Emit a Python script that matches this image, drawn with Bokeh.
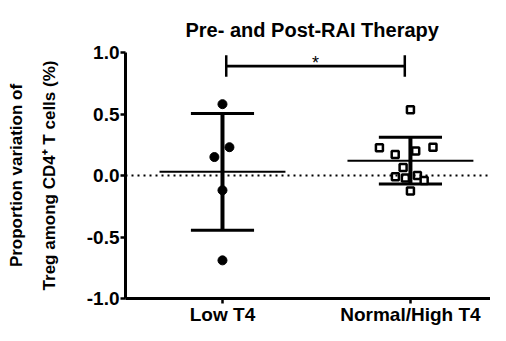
from bokeh.plotting import figure
from bokeh.models import Range1d, FixedTicker, PrintfTickFormatter, Span, Label
from bokeh.embed import file_html
from bokeh.resources import INLINE

# ---- data ----
groups = ["Low T4", "Normal/High T4"]
group_pos = [1, 2]
low_vals = [0.58, 0.23, 0.15, -0.12, -0.69]
low_jitter = [0.0, 0.037, -0.043, 0.0, 0.0]
high_vals = [0.534, 0.225, 0.17, 0.20, 0.23, 0.066, -0.01, -0.02, 0.0, -0.04, -0.125]
high_jitter = [0.0, -0.165, -0.081, 0.028, 0.12, -0.039, -0.08, -0.027, 0.037, 0.073, 0.0]
means = [0.03, 0.12]
sds = [0.475, 0.19]
y_ticks = [-1.0, -0.5, 0.0, 0.5, 1.0]
title_text = "Pre- and Post-RAI Therapy"
y_label = "Proportion variation of\nTreg among CD4\u207a T cells (%)"
sig_text = "*"

FONT = "Liberation Sans"

p = figure(frame_width=365, frame_height=246, output_backend="svg", toolbar_location=None,
           x_range=Range1d(0.484, 2.426), y_range=Range1d(-1.0, 1.0),
           min_border_left=125, min_border_right=0, min_border_top=52,
           min_border_bottom=22, title=title_text)
p.outline_line_color = None
p.xgrid.visible = False
p.ygrid.visible = False
p.background_fill_color = "white"

p.title.align = "left"
p.title.offset = 60
p.title.text_font = FONT
p.title.text_font_style = "bold"
p.title.text_font_size = "20px"
p.title.text_color = "black"
p.title.standoff = 24

# axes
for ax in (p.xaxis[0], p.yaxis[0]):
    ax.axis_line_width = 3
    ax.major_tick_line_width = 2.5
    ax.major_tick_in = 0
    ax.major_tick_out = 5
    ax.minor_tick_line_color = None
    ax.major_label_text_font = FONT
    ax.major_label_text_font_style = "bold"
    ax.major_label_text_color = "black"
    ax.axis_line_color = "black"
    ax.major_tick_line_color = "black"

p.yaxis.ticker = FixedTicker(ticks=y_ticks)
p.yaxis.formatter = PrintfTickFormatter(format="%.1f")
p.yaxis.major_label_text_font_size = "19px"
p.yaxis.major_label_standoff = 1
p.yaxis.axis_label = y_label
p.yaxis.axis_label_text_font = FONT
p.yaxis.axis_label_text_font_style = "bold"
p.yaxis.axis_label_text_font_size = "17px"
p.yaxis.axis_label_text_line_height = 1.7
p.yaxis.axis_label_standoff = 25
p.yaxis.axis_label_text_color = "black"

p.xaxis.ticker = FixedTicker(ticks=group_pos)
p.xaxis.major_label_overrides = {gp: g for gp, g in zip(group_pos, groups)}
p.xaxis.major_label_text_font_size = "19px"
p.xaxis.major_label_standoff = 0

# zero dotted line
p.add_layout(Span(location=0, dimension="width", line_color="black",
                  line_width=2, line_dash="2 4"))

# mean and SD
mx0 = [g - 0.335 for g in group_pos]
mx1 = [g + 0.335 for g in group_pos]
p.segment(x0=mx0, x1=mx1, y0=means, y1=means, line_color="black", line_width=2)
hi = [m + s for m, s in zip(means, sds)]
lo = [m - s for m, s in zip(means, sds)]
p.segment(x0=group_pos, x1=group_pos, y0=lo, y1=hi, line_color="black", line_width=4)
cx0 = [g - 0.168 for g in group_pos]
cx1 = [g + 0.168 for g in group_pos]
p.segment(x0=cx0, x1=cx1, y0=hi, y1=hi, line_color="black", line_width=3)
p.segment(x0=cx0, x1=cx1, y0=lo, y1=lo, line_color="black", line_width=3)

# points
p.scatter(x=[group_pos[0] + j for j in low_jitter], y=low_vals, marker="circle",
          size=9, fill_color="black", line_color="black")
p.scatter(x=[group_pos[1] + j for j in high_jitter], y=high_vals, marker="square",
          size=7, fill_color="white", line_color="black", line_width=2.5)

# significance bracket
by = 0.89
bx0, bx1 = group_pos[0] + 0.02, group_pos[1] - 0.03
p.segment(x0=[bx0], x1=[bx1], y0=[by], y1=[by], line_color="black", line_width=2.7)
p.segment(x0=[bx0, bx1], x1=[bx0, bx1], y0=[by - 0.087, by - 0.087], y1=[by + 0.087, by + 0.087],
          line_color="black", line_width=2.5)
p.add_layout(Label(x=(bx0 + bx1) / 2, y=by + 0.025, text=sig_text, text_align="center",
                   text_baseline="alphabetic", text_font=FONT, text_font_size="18px",
                   text_color="black"))

open("out.html", "w").write(file_html(p, INLINE))
